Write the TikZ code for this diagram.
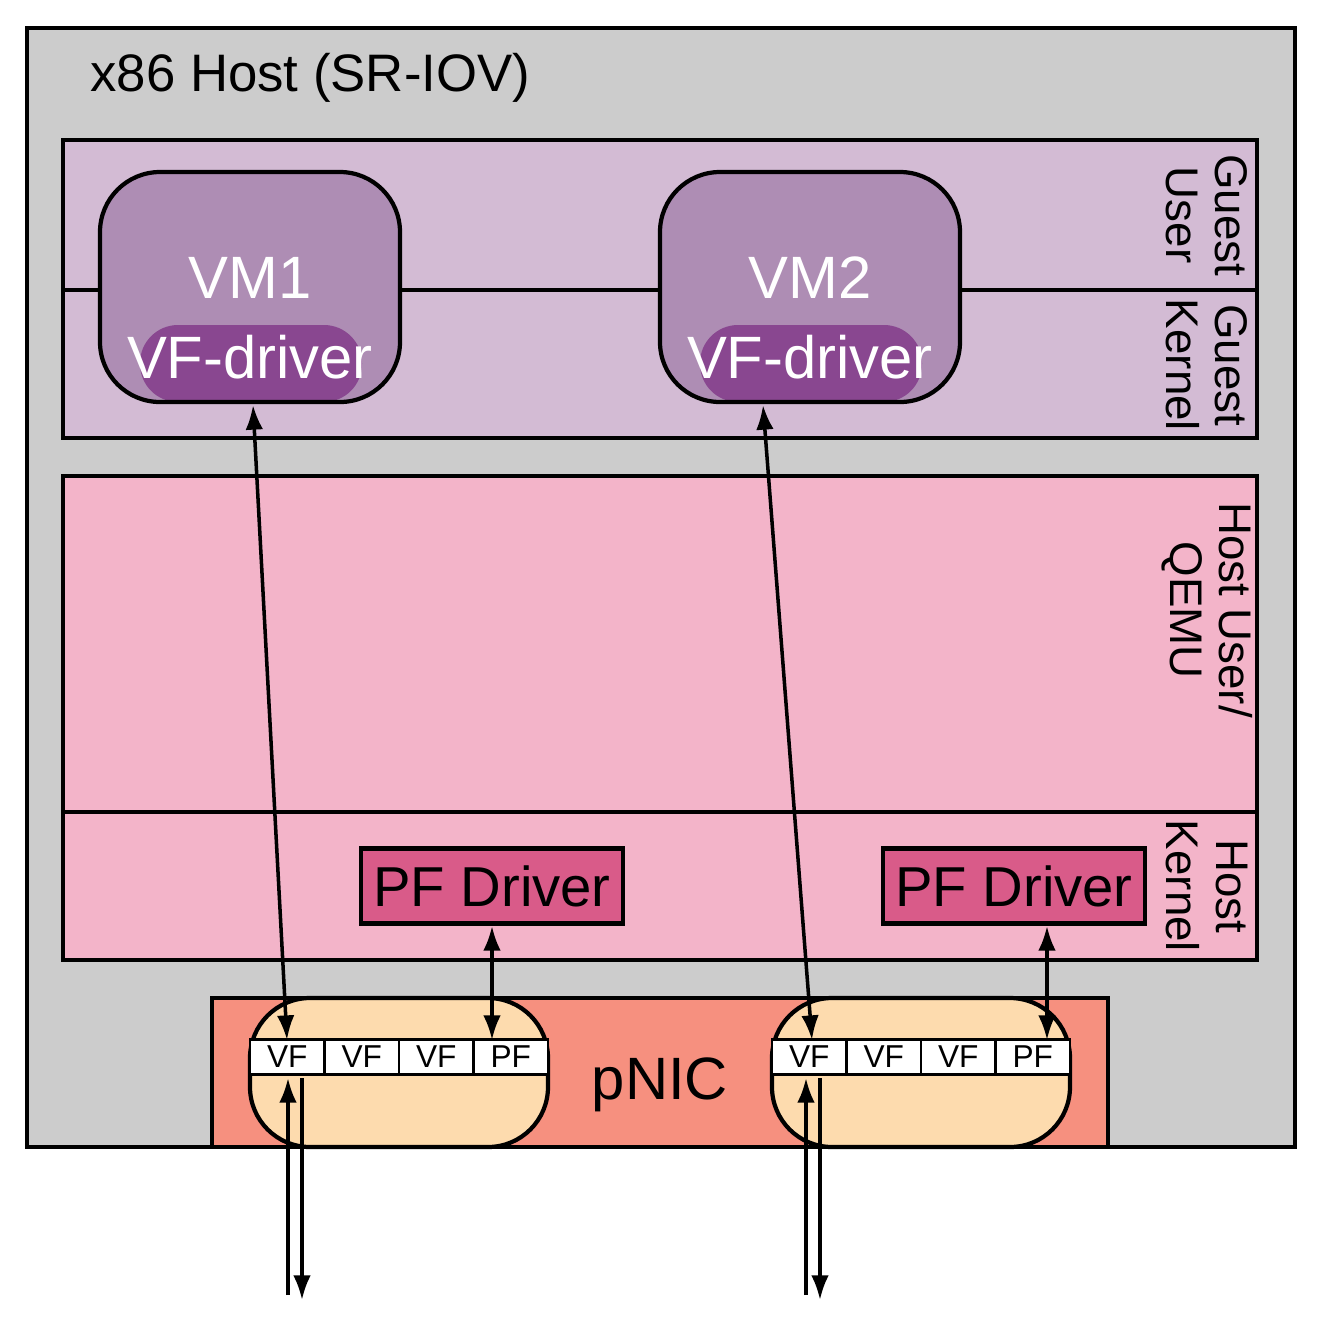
\documentclass[tikz,border=0pt]{standalone}
\usepackage{fontspec}
\setmainfont{Liberation Sans}
\usetikzlibrary{arrows.meta}
\begin{document}
\begin{tikzpicture}[x=0.01cm,y=-0.01cm,
  box/.style={draw=black,line width=1.2pt},
  pf/.style={box,fill=pfc,font=\fontsize{16}{18}\selectfont},
  vf/.style={draw=black,line width=0.8pt,fill=white,minimum width=0.745cm,minimum height=0.35cm,inner sep=0pt,font=\fontsize{9}{10}\selectfont},
  rl/.style={rotate=-90,align=center,font=\fontsize{13}{14}\selectfont},
  arr/.style={line width=1pt,-{Latex[length=7pt,width=5pt]}},
  darr/.style={line width=1pt,{Latex[length=7pt,width=5pt]}-{Latex[length=7pt,width=5pt]}}]
\definecolor{hostc}{HTML}{CCCCCC}
\definecolor{guestc}{HTML}{D3BBD4}
\definecolor{vmc}{HTML}{AE8DB4}
\definecolor{vfdc}{HTML}{894790}
\definecolor{hc}{HTML}{F3B4C9}
\definecolor{pfc}{HTML}{D95B89}
\definecolor{nicc}{HTML}{F6907F}
\definecolor{ovc}{HTML}{FDDBAE}
\useasboundingbox (0,0) rectangle (1318,1323);
\draw[box,fill=hostc] (27,28) rectangle (1295,1147);
\node[anchor=west,font=\fontsize{15}{17}\selectfont] (title) at (78,78) {x86 Host (SR-IOV)};
% guest
\draw[box,fill=guestc] (63,140) rectangle (1257,438);
\draw[line width=1.2pt] (63,290) -- (1257,290);
\node[rl] (gu) at (1207,215) {Guest\\User};
\node[rl] (gk) at (1207,365) {Guest\\Kernel};
% VMs
\foreach \x/\n in {100/1,660/2}{
  \fill[vmc,rounded corners=0.6cm] (\x,172) rectangle ++(300,230);
  \fill[vfdc,rounded corners=0.38cm] (\x+40,325) rectangle ++(222,77);
  \draw[line width=1.2pt,rounded corners=0.6cm] (\x,172) rectangle ++(300,230);
  \node[text=white,font=\fontsize{17}{19}\selectfont] (vm\n) at (\x+150,278) {VM\n};
  \node[text=white,font=\fontsize{17}{19}\selectfont] (vfd\n) at (\x+150,357) {VF-driver};
}
% host
\draw[box,fill=hc] (63,476) rectangle (1257,960);
\draw[line width=1.2pt] (63,812) -- (1257,812);
\node[rl] (hu) at (1207,610) {Host User/\\QEMU};
\node[rl] (hk) at (1207,886) {Host\\Kernel};
\node[pf,minimum width=2.62cm,minimum height=0.75cm] (pf1) at (492,886) {PF Driver};
\node[pf,minimum width=2.62cm,minimum height=0.75cm] (pf2) at (1014,886) {PF Driver};
% pNIC
\draw[box,fill=nicc] (212,998) rectangle (1108,1147);
\node[font=\fontsize{17}{19}\selectfont] (pnic) at (660,1085) {pNIC};
\foreach \x/\n in {250/1,772/2}{
  \draw[box,fill=ovc,rounded corners=0.6cm] (\x,998) rectangle ++(298,149);
  \node[vf] (a\n) at (\x+37.25,1057) {VF};
  \node[vf] (b\n) at (\x+111.75,1057) {VF};
  \node[vf] (c\n) at (\x+186.25,1057) {VF};
  \node[vf] (d\n) at (\x+260.75,1057) {PF};
}
\coordinate (t1) at (253,405); \coordinate (s1) at (287,1040);
\coordinate (t2) at (763,405); \coordinate (s2) at (812,1040);
\draw[darr] (t1) -- (s1);
\draw[darr] (t2) -- (s2);
\coordinate (p1) at (492,926); \coordinate (q1) at (492,1040);
\coordinate (p2) at (1047,926); \coordinate (q2) at (1047,1040);
\draw[darr] (p1) -- (q1);
\draw[darr] (p2) -- (q2);
\coordinate (u1) at (288,1295); \coordinate (w1) at (288,1078);
\coordinate (x1) at (302,1078); \coordinate (v1) at (302,1300);
\coordinate (u2) at (806,1295); \coordinate (w2) at (806,1078);
\coordinate (x2) at (820,1078); \coordinate (v2) at (820,1300);
\draw[arr] (u1) -- (w1);
\draw[arr] (x1) -- (v1);
\draw[arr] (u2) -- (w2);
\draw[arr] (x2) -- (v2);
\end{tikzpicture}
\end{document}
